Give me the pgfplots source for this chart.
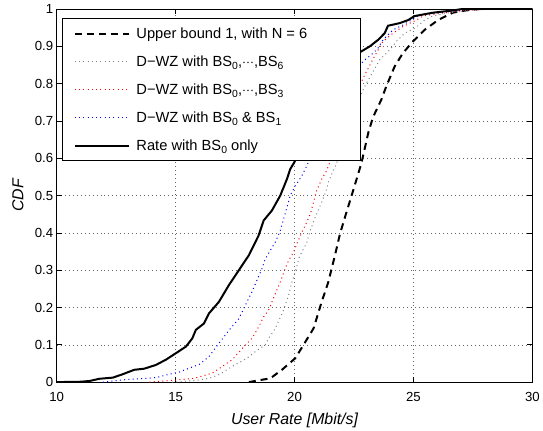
\documentclass[border=0pt]{standalone}
\usepackage{pgfplots}
\pgfplotsset{compat=1.18}
\usepackage{fontspec}
\setmainfont{Liberation Sans}
\newcommand\sub[1]{\raisebox{-0.45ex}{\fontsize{10.5}{11}\selectfont #1}}
\newcommand\cf{\fontsize{13.3}{16}\selectfont}
\newcommand\lf{\fontsize{14.8}{17}\selectfont}
\newcommand\labf{\fontsize{16}{19}\selectfont}
\newcommand\entry[1]{\makebox[216bp][l]{\hspace{4bp}#1}}
\newcommand\dd{${\cdot}{\cdot}{\cdot}$}

\begin{document}
\begin{tikzpicture}
\begin{axis}[
    name=main,
    scale only axis,
    width=478bp, height=375bp,
    xmin=10, xmax=30, ymin=0, ymax=1,
    xtick={10,15,20,25,30},
    ytick={0,0.1,0.2,0.3,0.4,0.5,0.6,0.7,0.8,0.9,1},
    yticklabels={0,0.1,0.2,0.3,0.4,0.5,0.6,0.7,0.8,0.9,1},
    /pgf/number format/assume math mode=true,
    tick label style={font=\cf},
    xticklabel style={anchor=center, yshift=-15bp},
    label style={font=\labf\itshape},
    xlabel={User Rate [Mbit/s]},
    ylabel={CDF},
    xlabel style={at={(rel axis cs:0.5,0)}, anchor=center, yshift=-38bp},
    ylabel style={at={(rel axis cs:0,0.5)}, anchor=center, yshift=39bp},
    tick align=inside,
    major tick length=5bp,
    axis line style={line width=0.8bp},
    every tick/.style={black, line width=0.6bp},
    grid=major,
    major grid style={black!60, line width=0.5bp, dash pattern=on 1bp off 3bp},
    legend cell align=left,
    legend style={at={(rel axis cs:0.012,0.975)}, anchor=north west,
        font=\lf, draw=black, line width=0.8bp, fill=white,
        inner xsep=11bp, inner ysep=7bp, row sep=12bp},
    legend image code/.code={\draw[#1] (0bp,0bp) -- (55bp,0bp);},
]
\addplot[black, line width=2bp, dash pattern=on 7bp off 5bp] coordinates {
(18.08,0) (18.6,0.006) (18.98,0.01) (19.47,0.033) (20.03,0.064) (20.38,0.1)
(20.8,0.144) (21.14,0.215) (21.42,0.268) (21.7,0.34) (21.91,0.397) (22.12,0.442)
(22.4,0.5) (22.61,0.544) (22.82,0.589) (23.1,0.668) (23.3,0.71) (23.65,0.757)
(23.86,0.793) (24.21,0.846) (24.56,0.882) (24.98,0.913) (25.47,0.944) (26.03,0.97)
(26.65,0.99) (27.2,0.996) (27.8,1.0) (30,1)};
\addlegendentry{\entry{Upper bound 1, with N = 6}}

\addplot[black!50, line width=1bp, dash pattern=on 1bp off 3.3bp] coordinates {
(14.85,0) (15.8,0.004) (16.4,0.01) (16.82,0.02) (17.38,0.042) (18.0,0.064)
(18.36,0.082) (18.77,0.1) (18.91,0.117) (19.19,0.144) (19.54,0.193) (19.75,0.233)
(19.89,0.268) (20.03,0.295) (20.2,0.335) (20.52,0.375) (20.66,0.406) (20.87,0.442)
(21.08,0.473) (21.31,0.509) (21.42,0.535) (21.56,0.557) (21.77,0.587) (22.1,0.64)
(22.5,0.71) (22.82,0.775) (23.03,0.802) (23.31,0.833) (23.58,0.864) (24.0,0.89)
(24.28,0.913) (24.63,0.935) (25.05,0.948) (25.47,0.97) (25.82,0.981) (26.51,0.99)
(27.5,0.997) (28.5,1) (30,1)};
\addlegendentry{\entry{D\textminus WZ with BS\sub{0},\dd,BS\sub{6}}}

\addplot[red, line width=1bp, dash pattern=on 1bp off 3.3bp] coordinates {
(13.9,0) (14.73,0.004) (15.77,0.01) (16.05,0.015) (16.54,0.024) (16.96,0.042)
(17.38,0.06) (17.87,0.095) (18.21,0.117) (18.49,0.148) (18.7,0.175) (18.91,0.193)
(19.19,0.237) (19.4,0.268) (19.58,0.3) (19.75,0.326) (19.96,0.348) (20.1,0.371)
(20.31,0.402) (20.45,0.42) (20.66,0.45) (20.8,0.482) (20.93,0.513) (21.14,0.544)
(21.31,0.562) (21.42,0.578) (21.8,0.64) (22.2,0.71) (22.5,0.76) (22.75,0.797)
(22.96,0.824) (23.17,0.85) (23.44,0.882) (23.72,0.913) (24.14,0.935) (24.56,0.953)
(25.12,0.97) (25.4,0.981) (26.1,0.988) (27,0.995) (28,0.999) (30,1)};
\addlegendentry{\entry{D\textminus WZ with BS\sub{0},\dd,BS\sub{3}}}

\addplot[blue, line width=1bp, dash pattern=on 1bp off 3.3bp] coordinates {
(11.94,0) (12.77,0.006) (13.47,0.009) (14.17,0.012) (14.73,0.021) (15.15,0.027)
(15.56,0.037) (15.98,0.047) (16.4,0.068) (16.82,0.104) (17.31,0.144) (17.66,0.17)
(18.0,0.215) (18.21,0.242) (18.42,0.273) (18.63,0.304) (18.77,0.33) (18.98,0.353)
(19.19,0.375) (19.4,0.406) (19.54,0.437) (19.68,0.468) (19.82,0.5) (20.03,0.526)
(20.31,0.553) (20.45,0.571) (20.56,0.586) (21.0,0.65) (21.5,0.72) (22.0,0.78)
(22.5,0.83) (22.89,0.86) (23.31,0.882) (23.51,0.895) (23.72,0.917) (24.14,0.944)
(24.56,0.957) (24.9,0.97) (25.26,0.984) (26.1,0.99) (27.0,0.997) (28,1) (30,1)};
\addlegendentry{\entry{D\textminus WZ with BS\sub{0} \& BS\sub{1}}}

\addplot[black, line width=2bp] coordinates {
(10,0) (11.0,0.001) (11.38,0.003) (11.8,0.009) (12.36,0.012) (12.77,0.021)
(13.26,0.033) (13.68,0.036) (14.17,0.046) (14.59,0.06) (15.0,0.077) (15.43,0.095)
(15.7,0.117) (15.85,0.14) (16.19,0.157) (16.4,0.184) (16.82,0.215) (17.24,0.26)
(17.66,0.3) (18.08,0.34) (18.49,0.393) (18.7,0.433) (19.05,0.46) (19.4,0.5)
(19.68,0.544) (19.82,0.571) (20.0,0.59) (20.5,0.67) (21.0,0.74) (21.5,0.79)
(22.0,0.83) (22.5,0.865) (22.75,0.884) (23.17,0.9) (23.51,0.917) (23.79,0.935)
(23.93,0.955) (24.42,0.962) (24.77,0.97) (25.05,0.981) (25.82,0.99) (26.65,0.996)
(27.07,1.0) (30,1)};
\addlegendentry{\entry{Rate with BS\sub{0} only}}
\end{axis}
\path ([xshift=-57bp,yshift=-43bp]main.south west) rectangle ([xshift=8bp,yshift=9bp]main.north east);
\end{tikzpicture}
\end{document}
